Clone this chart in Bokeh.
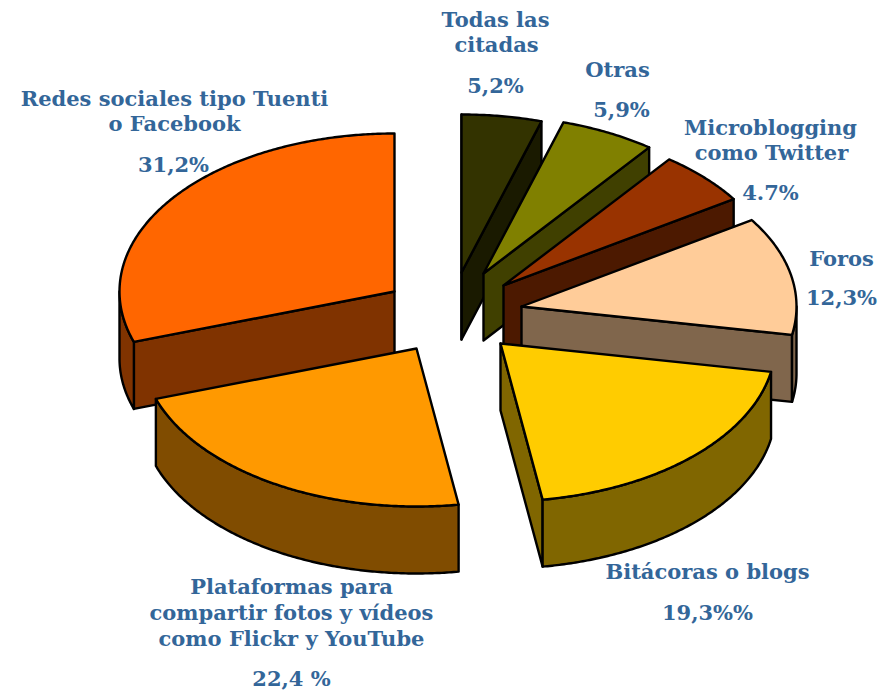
from math import cos, sin, radians
from bokeh.plotting import figure
from bokeh.models import Range1d
from bokeh.core.properties import value
from bokeh.embed import file_html
from bokeh.resources import INLINE

# Data: categories, plotted shares, colours
categories = ["Redes sociales", "Plataformas", "Bitacoras", "Foros", "Microblogging", "Otras", "Todas las citadas"]
shares = [30.2, 22.3, 19.7, 12.1, 5.5, 5.6, 4.7]
colors = ["#FF6600", "#FF9900", "#FFCC00", "#FFCC99", "#993300", "#808000", "#333300"]
walls = ["#803300", "#804C00", "#806600", "#80664C", "#4C1900", "#404000", "#1A1A00"]
explode_x = [-61, -39, 45, 66, 48, 28, 6]
explode_y = [-21, 36, 31, -6, -27, -39, -40]

# Labels
label_text = ["Todas las", "citadas", "5,2%", "Otras", "5,9%", "Microblogging", "como Twitter", "4.7%",
              "Foros", "12,3%", "Bitácoras o blogs", "19,3%%", "Plataformas para",
              "compartir fotos y vídeos", "como Flickr y YouTube", "22,4 %",
              "Redes sociales tipo Tuenti", "o Facebook", "31,2%"]
label_x = [495, 496, 495, 617, 621, 770, 771, 770, 841, 841, 707, 707, 291, 291, 291, 291, 174, 174, 173]
label_y = [19, 44, 85, 69, 109, 127, 152, 192, 258, 297, 571, 612, 586, 612, 638, 678, 98, 123, 164]

# Layout of the projected pie
CX, CY, RX, RY, DEPTH = 455, 312, 275, 158, 67
START = 90

p = figure(width=884, height=690, output_backend="svg", toolbar_location=None,
           x_range=Range1d(0, 884), y_range=Range1d(690, 0), min_border=0)
p.axis.visible = False
p.grid.visible = False
p.outline_line_color = None


def outline(a0, a1, ax, ay):
    n = max(2, int(abs(a1 - a0)) * 2)
    ts = [a0 + (a1 - a0) * i / n for i in range(n + 1)]
    return [ax + RX * cos(radians(t)) for t in ts], [ay - RY * sin(radians(t)) for t in ts]


total = sum(shares)
bounds = [START]
for s in shares:
    bounds.append(bounds[-1] + 360 * s / total)

items = []
for i, s in enumerate(shares):
    items.append((i, bounds[i], bounds[i + 1], CX + explode_x[i], CY + explode_y[i]))

LW = 2.4
# painter's order: back slices first, front slices last
for i, a0, a1, ax, ay in [items[k] for k in (6, 5, 4, 3, 0, 1, 2)]:
    xs, ys = outline(a0, a1, ax, ay)
    # radial walls: only those that lie below their edge, outside the top face
    edges = []
    if 270 <= a0 % 360 or a0 % 360 < 90:
        edges.append((xs[0], ys[0]))
    if 89 <= a1 % 360 < 270:
        edges.append((xs[-1], ys[-1]))
    for ex, ey in edges:
        p.patch([ax, ex, ex, ax], [ay, ey, ey + DEPTH, ay + DEPTH], fill_color=walls[i],
                line_color="black", line_width=LW, line_join="round")
    # outer curved wall on the part of the arc that faces the viewer
    for k in range(-1, 2):
        lo, hi = max(a0, 180 + 360 * k), min(a1, 360 + 360 * k)
        if hi > lo:
            wx, wy = outline(lo, hi, ax, ay)
            p.patch(wx + wx[::-1], wy + [y + DEPTH for y in wy[::-1]], fill_color=walls[i],
                    line_color="black", line_width=LW, line_join="round")
    p.patch([ax] + xs, [ay] + ys, fill_color=colors[i], line_color="black", line_width=LW, line_join="round")

p.text(label_x, label_y, text=label_text, text_font=value("DejaVu Serif"), text_font_style="bold",
       text_font_size="21px", text_color="#336699", text_align="center", text_baseline="middle")

open("out.html", "w").write(file_html(p, INLINE))
